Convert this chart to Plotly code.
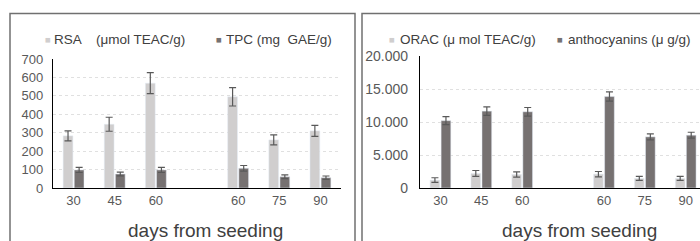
import plotly.graph_objects as go

# ---------------- data ----------------
categories = ["30", "45", "60", "", "60", "75", "90"]
rsa = [283, 346, 569, None, 495, 261, 310]
rsa_err = [27, 38, 57, None, 50, 27, 30]
tpc = [98, 76, 98, None, 107, 61, 56]
tpc_err = [14, 10, 14, None, 15, 10, 9]
orac = [1200, 2200, 2050, None, 2100, 1450, 1450]
orac_err = [350, 450, 400, None, 400, 300, 300]
antho = [10200, 11650, 11550, None, 13850, 7750, 8000]
antho_err = [600, 650, 650, None, 700, 450, 450]

left_yticks = [0, 100, 200, 300, 400, 500, 600, 700]
right_yticks = [0, 5000, 10000, 15000, 20000]
right_yticklabels = ["0", "5.000", "10.000", "15.000", "20.000"]

x_pos = list(range(len(categories)))

W, H = 700, 241
LIGHT = "#d0cece"
DARK = "#767171"
ERR = "#595959"
TICK = "#595959"
FONT = "Liberation Sans, Arial, sans-serif"


def px(x):
    return x / W


def py(y):
    return (H - y) / H


def err(vals):
    return dict(type="data", array=vals, color=ERR, thickness=1.2, width=3.5, visible=True)


fig = go.Figure()
fig.add_trace(go.Bar(x=x_pos, y=rsa, name="RSA (μmol TEAC/g)", marker_color=LIGHT,
                     error_y=err(rsa_err), xaxis="x", yaxis="y", showlegend=False))
fig.add_trace(go.Bar(x=x_pos, y=tpc, name="TPC (mg GAE/g)", marker_color=DARK,
                     error_y=err(tpc_err), xaxis="x", yaxis="y", showlegend=False))
fig.add_trace(go.Bar(x=x_pos, y=orac, name="ORAC (μ mol TEAC/g)", marker_color=LIGHT,
                     error_y=err(orac_err), xaxis="x2", yaxis="y2", showlegend=False))
fig.add_trace(go.Bar(x=x_pos, y=antho, name="anthocyanins (μ g/g)", marker_color=DARK,
                     error_y=err(antho_err), xaxis="x2", yaxis="y2", showlegend=False))

common_x = dict(tickmode="array", tickvals=x_pos, ticktext=categories, showgrid=False,
                zeroline=False, showline=True, linecolor="#000000", linewidth=1.3,
                ticks="", tickfont=dict(size=13, color=TICK, family=FONT), fixedrange=True,
                automargin=False)
common_y = dict(showgrid=True, gridcolor="#e0e0e0", griddash="dot", gridwidth=1,
                zeroline=False, showline=True, linecolor="#000000", linewidth=1.3,
                ticks="", tickfont=dict(size=13, color=TICK, family=FONT), fixedrange=True,
                automargin=False)

fig.update_layout(
    width=W, height=H,
    margin=dict(l=0, r=0, t=0, b=0, autoexpand=False),
    paper_bgcolor="white", plot_bgcolor="white",
    barmode="group", bargap=0.46, bargroupgap=0.12,
    font=dict(family=FONT),
    xaxis=dict(common_x, domain=[px(53), px(341)], range=[-0.5, 6.5], anchor="y"),
    yaxis=dict(common_y, domain=[py(188), py(59)], range=[0, 700], anchor="x",
               tickvals=left_yticks, ticklabelstandoff=6),
    xaxis2=dict(common_x, domain=[px(420), 1.0], range=[-0.5, 6.35], anchor="y2"),
    yaxis2=dict(common_y, domain=[py(188), py(56)], range=[0, 20000], anchor="x2",
                tickvals=right_yticks, ticktext=right_yticklabels,
                tickfont=dict(size=14, color=TICK, family=FONT), ticklabelstandoff=8),
)

# panel frames
fig.add_shape(type="rect", xref="paper", yref="paper", x0=px(10), x1=px(355),
              y0=py(300), y1=py(13.5), line=dict(color="#707070", width=1.5), layer="below")
fig.add_shape(type="rect", xref="paper", yref="paper", x0=px(362), x1=px(720),
              y0=py(300), y1=py(13.5), line=dict(color="#707070", width=1.5), layer="below")


def ann(x, y, text, size=13.5, color="#404040", xanchor="left"):
    fig.add_annotation(x=px(x), y=py(y), xref="paper", yref="paper", text=text,
                       showarrow=False, xanchor=xanchor, yanchor="middle",
                       font=dict(size=size, color=color, family=FONT))

# legends (left panel)
ann(43, 40, "■", size=9.5, color=LIGHT)
ann(52, 40, "RSA")
ann(94, 40, "(μmol TEAC/g)")
ann(214, 40, "■", size=9.5, color=DARK)
ann(224, 40, "TPC (mg  GAE/g)")
# legends (right panel)
ann(387, 40, "■", size=9.5, color=LIGHT)
ann(398, 40, "ORAC (μ mol TEAC/g)")
ann(555, 40, "■", size=9.5, color=DARK)
ann(566, 40, "anthocyanins (μ g/g)")

# axis titles
ann(206, 230, "days from seeding", size=19, xanchor="center")
ann(579, 230, "days from seeding", size=19, xanchor="center")

fig.write_html("out.html", config={"displayModeBar": False},
               post_script="document.body.style.margin='0';")
